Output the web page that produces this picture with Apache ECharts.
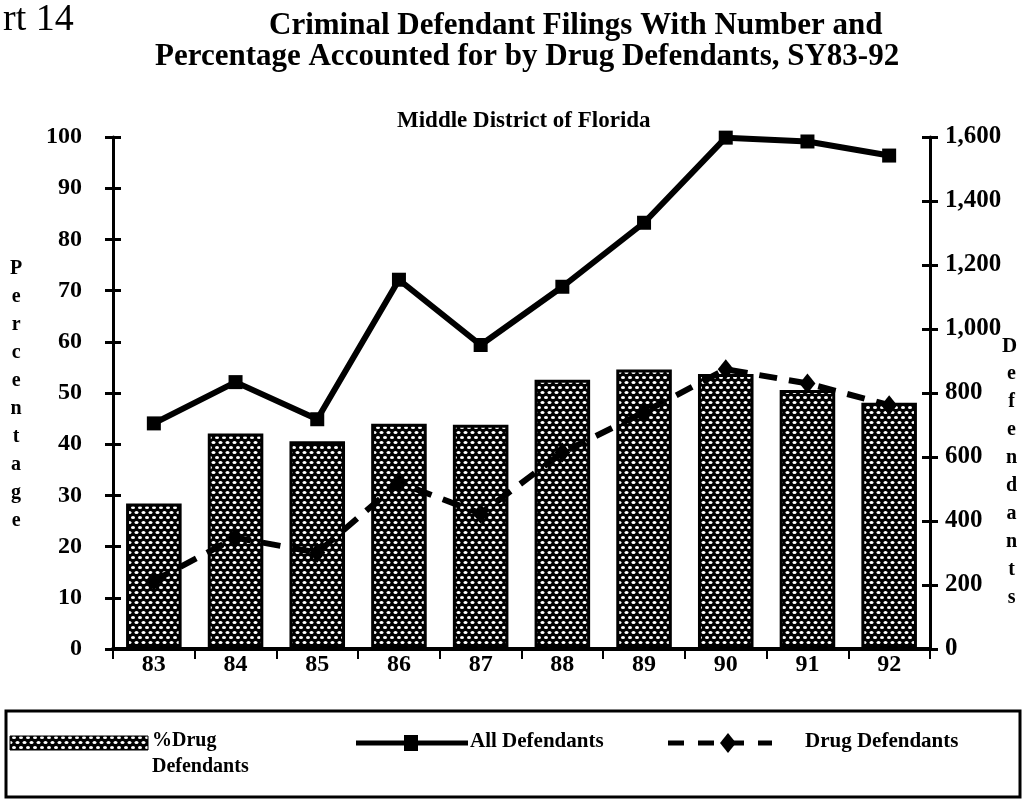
<!DOCTYPE html>
<html>
<head>
<meta charset="utf-8">
<script src="https://cdn.jsdelivr.net/npm/echarts@6/dist/echarts.min.js"></script>
<style>
  html, body { margin: 0; padding: 0; background: #fff; }
  #chart { width: 1029px; height: 808px; }
</style>
</head>
<body>
<div id="chart"></div>
<script>
// Statistical years (SY) 1983-1992
const years = ['83', '84', '85', '86', '87', '88', '89', '90', '91', '92'];
// Share of criminal defendants who were drug defendants (%)
const pctDrug = [28.4, 42.1, 40.6, 44.0, 43.8, 52.6, 54.6, 53.7, 50.6, 48.1];
// Total criminal defendants filed
const allDefendants = [705, 834, 718, 1154, 950, 1132, 1332, 1598, 1586, 1542];
// Drug defendants filed
const drugDefendants = [213, 348, 301, 520, 423, 614, 740, 874, 830, 762];

const pctTicks = { min: 0, max: 100, step: 10 };
const countTicks = { min: 0, max: 1600, step: 200 };

const serif = '"Liberation Serif", "DejaVu Serif", "Times New Roman", serif';

// Dotted fill used by the percentage bars: white dots on black
function dotPattern() {
  const c = document.createElement('canvas');
  c.width = 14; c.height = 10;
  const g = c.getContext('2d');
  g.fillStyle = '#000';
  g.fillRect(0, 0, 14, 10);
  g.fillStyle = '#fff';
  const dots = [[3.5, 2.5], [10.5, 2.5], [0, 7.5], [7, 7.5], [14, 7.5]];
  dots.forEach(([x, y]) => {
    g.beginPath();
    g.ellipse(x, y, 2.0, 1.6, 0, 0, Math.PI * 2);
    g.fill();
  });
  return c;
}
const pattern = { image: dotPattern(), repeat: 'repeat' };

const chart = echarts.init(document.getElementById('chart'), null, { renderer: 'canvas' });

const vertical = s => s.split('').join('\n');
const boldText = (size) => ({ fontFamily: serif, fontSize: size, fontWeight: 'bold', color: '#000' });

const option = {
  backgroundColor: '#fff',
  animation: false,
  title: [
    { text: 'rt 14', left: -2, top: -4, textStyle: { fontFamily: serif, fontSize: 38, fontWeight: 'normal', color: '#000' } },
    { text: 'Criminal Defendant Filings With Number and', left: 264, top: 5, textStyle: boldText(31) },
    { text: 'Percentage Accounted for by Drug Defendants, SY83-92', left: 150, top: 36, textStyle: boldText(31) },
    { text: 'Middle District of Florida', left: 392, top: 105, textStyle: boldText(23) }
  ],
  grid: { left: 113, right: 99, top: 137, bottom: 159, containLabel: false },
  xAxis: {
    type: 'category',
    data: years,
    boundaryGap: true,
    axisLine: { lineStyle: { color: '#000', width: 4 } },
    axisTick: { show: true, inside: false, length: 10, lineStyle: { color: '#000', width: 2 } },
    axisLabel: { color: '#000', fontFamily: serif, fontSize: 24, fontWeight: 'bold', margin: 4 },
    splitLine: { show: false }
  },
  yAxis: [
    {
      type: 'value', position: 'left',
      min: pctTicks.min, max: pctTicks.max, interval: pctTicks.step,
      axisLine: { show: true, lineStyle: { color: '#000', width: 3 } },
      axisTick: { show: true, inside: false, length: 8, lineStyle: { color: '#000', width: 3 } },
      axisLabel: { color: '#000', fontFamily: serif, fontSize: 24, fontWeight: 'bold', margin: 31 },
      splitLine: { show: false }
    },
    {
      type: 'value', position: 'right',
      min: countTicks.min, max: countTicks.max, interval: countTicks.step,
      axisLine: { show: true, lineStyle: { color: '#000', width: 3 } },
      axisTick: { show: true, inside: false, length: 8, lineStyle: { color: '#000', width: 3 } },
      axisLabel: {
        color: '#000', fontFamily: serif, fontSize: 25, fontWeight: 'bold', margin: 15,
        formatter: v => v.toLocaleString('en-US')
      },
      splitLine: { show: false }
    },
    // inner halves of the crossing tick marks
    {
      type: 'value', position: 'left',
      min: pctTicks.min, max: pctTicks.max, interval: pctTicks.step,
      axisLine: { show: false },
      axisTick: { show: true, inside: true, length: 8, lineStyle: { color: '#000', width: 3 } },
      axisLabel: { show: false }, splitLine: { show: false }
    },
    {
      type: 'value', position: 'right',
      min: countTicks.min, max: countTicks.max, interval: countTicks.step,
      axisLine: { show: false },
      axisTick: { show: true, inside: true, length: 8, lineStyle: { color: '#000', width: 3 } },
      axisLabel: { show: false }, splitLine: { show: false }
    }
  ],
  series: [
    {
      name: '%Drug Defendants',
      type: 'bar',
      yAxisIndex: 0,
      data: pctDrug,
      barWidth: '68%',
      itemStyle: { color: pattern, borderColor: '#000', borderWidth: 3 },
      z: 2
    },
    {
      name: 'All Defendants',
      type: 'line',
      yAxisIndex: 1,
      data: allDefendants,
      symbol: 'rect',
      symbolSize: 14,
      lineStyle: { color: '#000', width: 6 },
      itemStyle: { color: '#000' },
      z: 4
    },
    {
      name: 'Drug Defendants',
      type: 'line',
      yAxisIndex: 1,
      data: drugDefendants,
      symbol: 'diamond',
      symbolSize: [16, 20],
      lineStyle: { color: '#000', width: 6, type: [18, 12] },
      itemStyle: { color: '#000' },
      z: 3
    }
  ],
  graphic: [
    // stacked axis titles
    { type: 'text', left: 10, top: 255, style: { text: vertical('Percentage'), fontFamily: serif, fontSize: 20, fontWeight: 'bold', lineHeight: 28, fill: '#000', textAlign: 'center' } },
    { type: 'text', left: 1002, top: 336, style: { text: 'D', fontFamily: serif, fontSize: 21, fontWeight: 'bold', fill: '#000' } },
    { type: 'text', left: 1006, top: 360, style: { text: vertical('efendants'), fontFamily: serif, fontSize: 20, fontWeight: 'bold', lineHeight: 28, fill: '#000', textAlign: 'center' } },
    // legend frame
    { type: 'rect', shape: { x: 6, y: 711, width: 1014, height: 86 }, style: { fill: 'none', stroke: '#000', lineWidth: 3 } },
    // bar key
    { type: 'rect', shape: { x: 10, y: 736, width: 138, height: 14 }, style: { fill: pattern, stroke: '#000', lineWidth: 1 } },
    { type: 'text', left: 152, top: 731, style: { text: '%Drug', fontFamily: serif, fontSize: 20, fontWeight: 'bold', fill: '#000' } },
    { type: 'text', left: 152, top: 757, style: { text: 'Defendants', fontFamily: serif, fontSize: 20, fontWeight: 'bold', fill: '#000' } },
    // all defendants key
    { type: 'line', shape: { x1: 356, y1: 743, x2: 468, y2: 743 }, style: { stroke: '#000', lineWidth: 5 } },
    { type: 'rect', shape: { x: 404, y: 735, width: 14, height: 16 }, style: { fill: '#000' } },
    { type: 'text', left: 470, top: 731, style: { text: 'All Defendants', fontFamily: serif, fontSize: 21, fontWeight: 'bold', fill: '#000' } },
    // drug defendants key
    { type: 'line', shape: { x1: 668, y1: 743, x2: 772, y2: 743 }, style: { stroke: '#000', lineWidth: 5, lineDash: [16, 14] } },
    { type: 'polygon', shape: { points: [[728, 733], [736, 743], [728, 753], [720, 743]] }, style: { fill: '#000' } },
    { type: 'text', left: 805, top: 731, style: { text: 'Drug Defendants', fontFamily: serif, fontSize: 21, fontWeight: 'bold', fill: '#000' } }
  ]
};

chart.setOption(option);
</script>
</body>
</html>
